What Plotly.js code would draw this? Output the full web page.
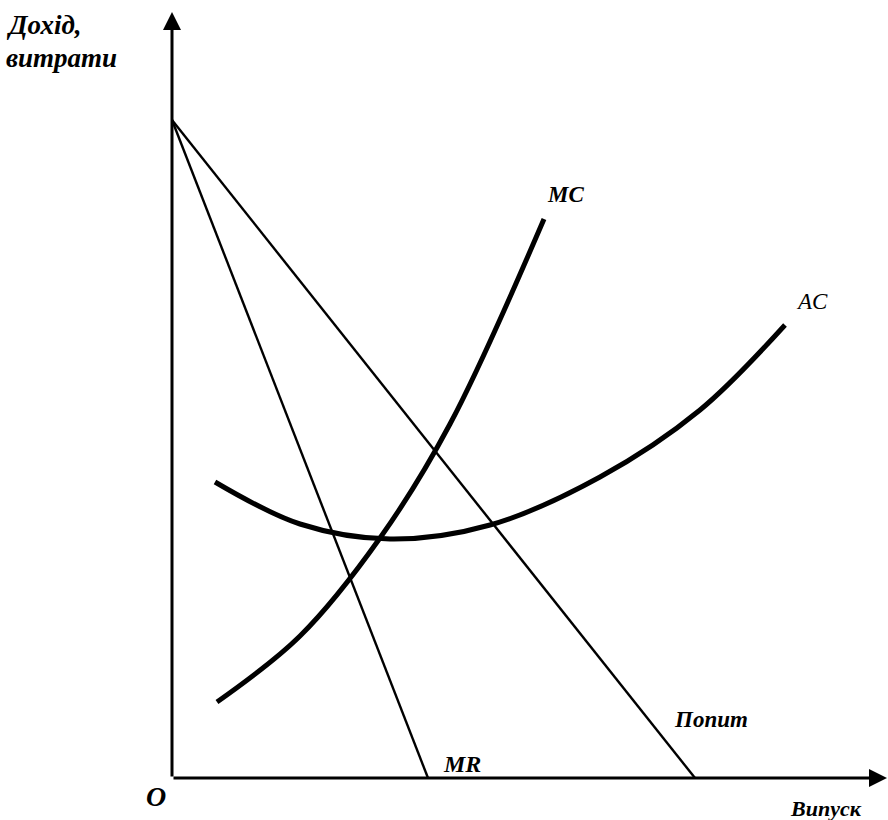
<!DOCTYPE html>
<html>
<head>
<meta charset="utf-8">
<script src="https://cdn.plot.ly/plotly-3.0.1.min.js"></script>
<style>html,body{margin:0;padding:0;background:#fff;}#chart{width:888px;height:820px;}</style>
</head>
<body>
<div id="chart"></div>
<script>
// Quantity (output) and price/cost values
const demandQ = [0, 52.3];
const demandP = [65.8, 0];
const mrQ = [0, 25.6];
const mrP = [65.8, 0];
const mcQ = [4.5, 12.8, 20.8, 27.8, 37.2];
const mcC = [7.6, 14.2, 24.0, 35.4, 55.9];
const acQ = [4.3, 12.8, 21.8, 31.8, 42.8, 52.8, 61.3];
const acC = [29.6, 25.4, 23.9, 25.3, 30.1, 36.8, 45.3];

const yTitle = ['Дохід,', 'витрати'];
const xTitle = 'Випуск';
const originLabel = 'O';
const curveLabels = ['MC', 'AC', 'Попит', 'MR'];

const serif = "'Liberation Serif', 'Times New Roman', serif";

const traces = [
  {x: demandQ, y: demandP, mode: 'lines', line: {color: '#000', width: 2.4}, hoverinfo: 'skip'},
  {x: mrQ, y: mrP, mode: 'lines', line: {color: '#000', width: 2.4}, hoverinfo: 'skip'},
  {x: mcQ, y: mcC, mode: 'lines', line: {color: '#000', width: 5, shape: 'spline'}, hoverinfo: 'skip'},
  {x: acQ, y: acC, mode: 'lines', line: {color: '#000', width: 5, shape: 'spline'}, hoverinfo: 'skip'}
];

function txt(t, x, y, size, opts) {
  return Object.assign({
    text: '<b><i>' + t + '</i></b>', x: x, y: y, xref: 'x', yref: 'y', showarrow: false,
    font: {family: serif, size: size, color: '#000'},
    xanchor: 'center', yanchor: 'middle'
  }, opts || {});
}

const annotations = [
  {x: 0, y: 76.6, ax: 0, ay: 0, axref: 'x', ayref: 'y', xref: 'x', yref: 'y', text: '',
   showarrow: true, arrowhead: 2, arrowsize: 1.2, arrowwidth: 3, arrowcolor: '#000'},
  {x: 71.5, y: 0, ax: 0, ay: 0, axref: 'x', ayref: 'y', xref: 'x', yref: 'y', text: '',
   showarrow: true, arrowhead: 2, arrowsize: 1.2, arrowwidth: 3, arrowcolor: '#000'},
  txt(yTitle[0], -16.8, 75.3, 27, {xanchor: 'left'}),
  txt(yTitle[1], -16.8, 72.0, 27, {xanchor: 'left'}),
  txt(xTitle, 65.4, -3.0, 22),
  txt(originLabel, -1.6, -1.8, 28),
  txt(curveLabels[0], 39.3, 58.4, 23),
  Object.assign(txt(curveLabels[1], 64.0, 47.7, 23), {text: '<i>' + curveLabels[1] + '</i>'}),
  txt(curveLabels[2], 53.9, 5.9, 23),
  txt(curveLabels[3], 29.0, 1.4, 24)
];

const layout = {
  width: 888, height: 820,
  margin: {l: 0, r: 0, t: 0, b: 0},
  paper_bgcolor: '#fff', plot_bgcolor: '#fff',
  showlegend: false,
  xaxis: {range: [-17.2, 71.6], visible: false, fixedrange: true},
  yaxis: {range: [-4.2, 77.8], visible: false, fixedrange: true},
  annotations: annotations
};

Plotly.newPlot('chart', traces, layout, {staticPlot: true});
</script>
</body>
</html>
